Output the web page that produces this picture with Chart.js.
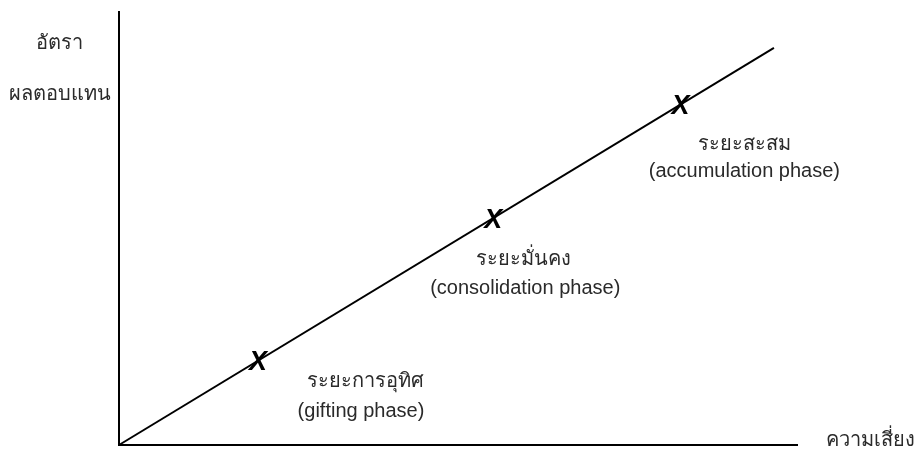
<!DOCTYPE html>
<html lang="th">
<head>
  <meta charset="UTF-8">
  <title>ระยะของการลงทุน</title>
  <script src="https://cdn.jsdelivr.net/npm/chart.js"></script>
  <style>
    body {
      margin: 0;
      padding: 0;
      background-color: #fff;
    }
    .wrap {
      width: 916px;
      height: 450px;
      position: relative;
    }
  </style>
</head>
<body>
  <div class="wrap">
    <canvas id="phaseChart" width="916" height="450"></canvas>
  </div>

  <script>
    // Risk/return trend line (start and end)
    const lineRisk = [0, 96.6];
    const lineReturn = [0, 91.7];

    // Phases marked on the line
    const phaseThai = ['ระยะการอุทิศ', 'ระยะมั่นคง', 'ระยะสะสม'];
    const phaseEng = ['(gifting phase)', '(consolidation phase)', '(accumulation phase)'];
    const phaseRisk = [20.5, 55.2, 82.8];
    const phaseReturn = [19.5, 52.4, 78.6];

    // Axis captions
    const yCaption = ['อัตรา', 'ผลตอบแทน'];
    const xCaption = 'ความเสี่ยง';

    const textFont = '"Liberation Sans", Arial, "Noto Sans", sans-serif';
    const textColor = '#2a2a2a';

    // Draws the X markers, phase labels and axis captions
    const phaseLabels = {
      id: 'phaseLabels',
      afterDatasetsDraw(chart) {
        const ctx = chart.ctx;
        const area = chart.chartArea;
        const pts = chart.getDatasetMeta(1).data;
        // label offsets from each marker (thai line, english line)
        const offs = [[108, 21, 103, 51], [30, 41, 32, 70], [64, 40, 64, 67]];

        ctx.save();
        ctx.textAlign = 'center';
        ctx.textBaseline = 'middle';
        pts.forEach((p, i) => {
          ctx.fillStyle = '#000';
          ctx.font = 'italic bold 27px ' + textFont;
          ctx.fillText('X', p.x, p.y + 2);

          ctx.fillStyle = textColor;
          ctx.font = '20px ' + textFont;
          ctx.fillText(phaseThai[i], p.x + offs[i][0], p.y + offs[i][1]);
          ctx.fillText(phaseEng[i], p.x + offs[i][2], p.y + offs[i][3]);
        });

        ctx.font = '20px ' + textFont;
        ctx.fillText(yCaption[0], area.left - 60, 43);
        ctx.fillText(yCaption[1], area.left - 59, 94);
        ctx.fillText(xCaption, area.right + 73, area.bottom - 5);
        ctx.restore();
      }
    };

    new Chart(document.getElementById('phaseChart').getContext('2d'), {
      type: 'scatter',
      data: {
        datasets: [{
          data: lineRisk.map((x, i) => ({ x: x, y: lineReturn[i] })),
          showLine: true,
          borderColor: '#000',
          borderWidth: 2,
          pointRadius: 0,
          clip: false
        }, {
          data: phaseRisk.map((x, i) => ({ x: x, y: phaseReturn[i] })),
          pointRadius: 0,
          showLine: false
        }]
      },
      options: {
        responsive: false,
        animation: false,
        layout: { padding: { left: 119, top: 12, right: 119, bottom: 5 } },
        plugins: {
          legend: { display: false },
          tooltip: { enabled: false }
        },
        scales: {
          x: {
            min: 0, max: 100,
            ticks: { display: false },
            grid: { display: false, drawTicks: false },
            border: { display: true, color: '#000', width: 2 }
          },
          y: {
            min: 0, max: 100,
            ticks: { display: false },
            grid: { display: false, drawTicks: false },
            border: { display: true, color: '#000', width: 2 }
          }
        }
      },
      plugins: [phaseLabels]
    });
  </script>
</body>
</html>
